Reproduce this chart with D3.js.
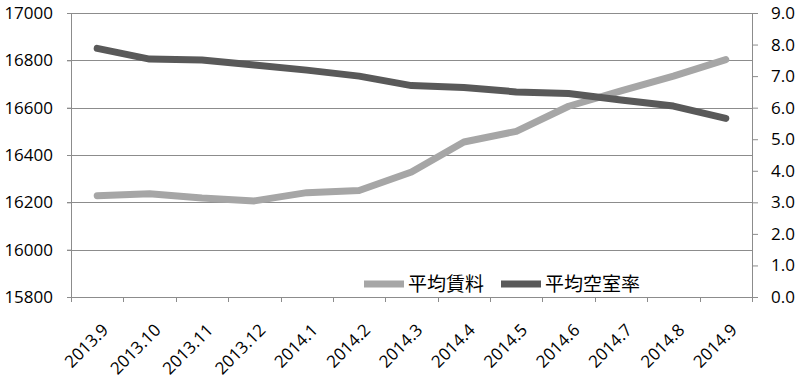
<!DOCTYPE html>
<html>
<head>
<meta charset="utf-8">
<script src="https://cdn.jsdelivr.net/npm/d3@7"></script>
<style>
  body { margin: 0; background: #fff; }
  svg text { font-family: "Open Sans", "Noto Sans CJK JP", sans-serif; fill: #000; }
</style>
</head>
<body>
<div class="content"></div>
<script>
// Data
const months = [
  "2013.9", "2013.10", "2013.11", "2013.12", "2014.1", "2014.2", "2014.3",
  "2014.4", "2014.5", "2014.6", "2014.7", "2014.8", "2014.9",
];
const rent = [
  16228, 16236, 16218, 16206, 16241, 16250, 16328,
  16455, 16500, 16606, 16671, 16733, 16803,
];
const vacancy = [7.88, 7.54, 7.51, 7.35, 7.19, 7.0, 6.7, 6.64, 6.5, 6.45, 6.24, 6.05, 5.66];
const leftTicks = [15800, 16000, 16200, 16400, 16600, 16800, 17000];
const rightTicks = [0, 1, 2, 3, 4, 5, 6, 7, 8, 9];
const seriesNames = ["平均賃料", "平均空室率"];

// Dimensions
const width = 800;
const height = 383;
const margin = { top: 13, right: 48, bottom: 86, left: 71 };
const plotW = width - margin.left - margin.right;
const plotH = height - margin.top - margin.bottom;

const lightColor = "#a6a6a6";
const darkColor = "#595959";
const gridColor = "#8c8c8c";

const svg = d3
  .select(".content")
  .append("svg")
  .attr("width", width)
  .attr("height", height);

const chart = svg
  .append("g")
  .attr("transform", `translate(${margin.left}, ${margin.top})`);

// Scales
const xScale = d3.scaleBand().domain(months).range([0, plotW]);
const yLeft = d3.scaleLinear().domain([15800, 17000]).range([plotH, 0]);
const yRight = d3.scaleLinear().domain([0, 9]).range([plotH, 0]);

// Grid
chart
  .append("g")
  .selectAll("line")
  .data(leftTicks)
  .join("line")
  .attr("x1", -4)
  .attr("x2", plotW)
  .attr("y1", (d) => Math.round(yLeft(d)) + 0.5)
  .attr("y2", (d) => Math.round(yLeft(d)) + 0.5)
  .attr("stroke", gridColor)
  .attr("stroke-width", 1);

// Left axis
const yAxisLeft = d3
  .axisLeft(yLeft)
  .tickValues(leftTicks)
  .tickFormat((d) => String(d))
  .tickSize(4)
  .tickPadding(14);

chart
  .append("g")
  .call(yAxisLeft)
  .call((g) => g.selectAll("path, line").attr("stroke", gridColor))
  .call((g) => g.selectAll("text").style("font-size", "17px"));

// Right axis
const yAxisRight = d3
  .axisRight(yRight)
  .tickValues(rightTicks)
  .tickFormat(d3.format(".1f"))
  .tickSize(6)
  .tickPadding(13);

chart
  .append("g")
  .attr("transform", `translate(${plotW}, 0)`)
  .call(yAxisRight)
  .call((g) => g.selectAll("path, line").attr("stroke", gridColor))
  .call((g) => g.selectAll("text").style("font-size", "17px"));

// X axis
const xAxis = d3.axisBottom(xScale).tickSize(0).tickPadding(0);

const xg = chart
  .append("g")
  .attr("transform", `translate(0, ${plotH})`)
  .call(xAxis);

xg.select(".domain").remove();
xg.selectAll("text")
  .attr("x", 0)
  .attr("y", 0)
  .attr("dy", "0.35em")
  .attr("transform", "translate(8, 30) rotate(-45)")
  .style("text-anchor", "end")
  .style("font-size", "17px");

xg.append("line")
  .attr("x1", 0)
  .attr("x2", plotW)
  .attr("y1", 0.5)
  .attr("y2", 0.5)
  .attr("stroke", gridColor);

xg.selectAll(".bound")
  .data([...months.map((d) => xScale(d)), plotW])
  .join("line")
  .attr("class", "bound")
  .attr("x1", (d) => Math.round(d) + 0.5)
  .attr("x2", (d) => Math.round(d) + 0.5)
  .attr("y1", 0)
  .attr("y2", 5)
  .attr("stroke", gridColor);

// Lines
const cx = (d, i) => xScale(months[i]) + xScale.bandwidth() / 2;

chart
  .append("path")
  .datum(rent)
  .attr("fill", "none")
  .attr("stroke", lightColor)
  .attr("stroke-width", 7)
  .attr("stroke-linecap", "round")
  .attr("stroke-linejoin", "round")
  .attr("d", d3.line().x(cx).y((d) => yLeft(d)));

chart
  .append("path")
  .datum(vacancy)
  .attr("fill", "none")
  .attr("stroke", darkColor)
  .attr("stroke-width", 7)
  .attr("stroke-linecap", "round")
  .attr("stroke-linejoin", "round")
  .attr("d", d3.line().x(cx).y((d) => yRight(d)));

// Legend
const legendItems = [
  { name: seriesNames[0], color: lightColor, x: 364 },
  { name: seriesNames[1], color: darkColor, x: 501 },
];

const legend = svg.append("g").attr("transform", "translate(0, 284)");

legend
  .selectAll("line")
  .data(legendItems)
  .join("line")
  .attr("x1", (d) => d.x)
  .attr("x2", (d) => d.x + 40)
  .attr("stroke", (d) => d.color)
  .attr("stroke-width", 7);

legend
  .selectAll("text")
  .data(legendItems)
  .join("text")
  .attr("x", (d) => d.x + 44)
  .attr("dy", "0.35em")
  .style("font-size", "19px")
  .text((d) => d.name);
</script>
</body>
</html>
